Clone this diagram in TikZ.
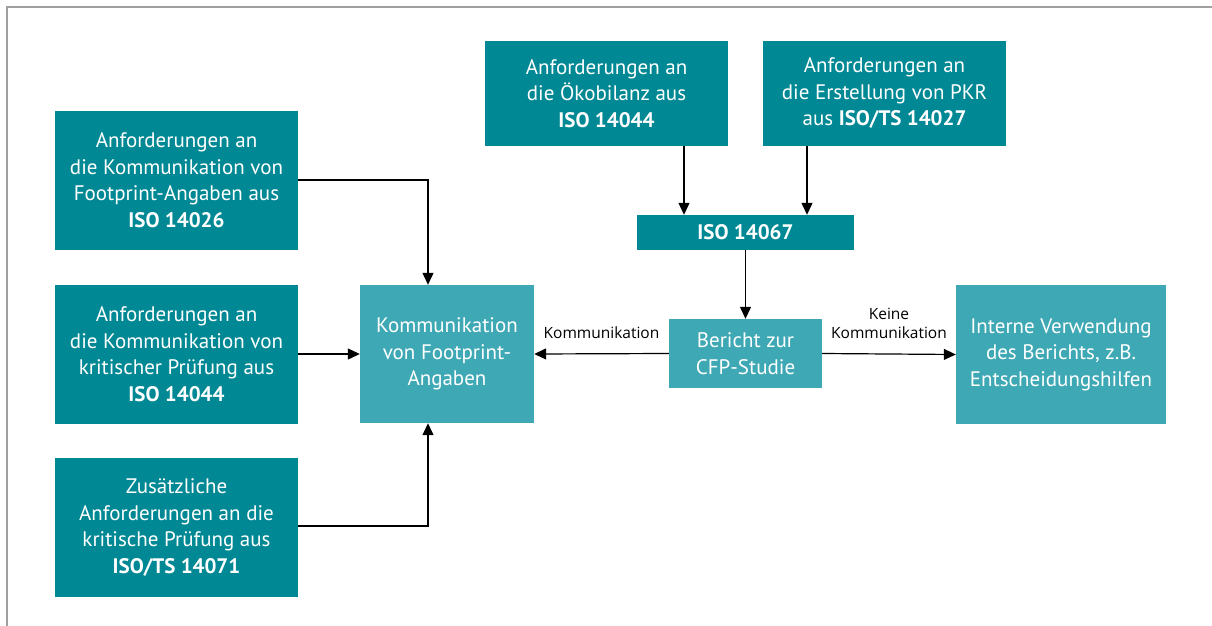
\documentclass[tikz,border=0pt]{standalone}
\usepackage{fontspec}
\setmainfont{PT Sans}
\newfontfamily\lblfont{Open Sans}
\usetikzlibrary{arrows.meta}
\definecolor{darkteal}{HTML}{008894}
\definecolor{lightteal}{HTML}{3EA8B5}
\definecolor{framegray}{HTML}{A0A0A0}
\tikzset{
  dbox/.style={fill=darkteal, text=white, inner sep=0pt, align=center, font=\fontsize{21}{26.5}\selectfont},
  lbox/.style={fill=lightteal, text=white, inner sep=0pt, align=center, font=\fontsize{21}{26.5}\selectfont},
  conn/.style={line width=1.2pt, -{Triangle[length=12pt,width=11pt]}},
  lbl/.style={font=\lblfont\fontsize{15.5}{19}\selectfont, align=center, text=black, inner sep=0pt}
}
\begin{document}
\begin{tikzpicture}[x=1pt,y=-1pt]
\useasboundingbox (0,0) rectangle (1212,626);
\draw[framegray, line width=1.5pt] (7,626) -- (7,7) -- (1212,7);
% left column
\node[dbox, minimum width=243pt, minimum height=139pt] (a) at (176.5,180) {Anforderungen an\\die Kommunikation von\\Footprint-Angaben aus\\\textbf{ISO 14026}};
\node[dbox, minimum width=243pt, minimum height=139pt] (b) at (176.5,354) {Anforderungen an\\die Kommunikation von\\kritischer Prüfung aus\\\textbf{ISO 14044}};
\node[dbox, minimum width=243pt, minimum height=139pt] (c) at (176.5,527.5) {Zusätzliche\\Anforderungen an die\\kritische Prüfung aus\\\textbf{ISO/TS 14071}};
% communication box
\node[lbox, minimum width=174pt, minimum height=138pt] (k) at (447,354) {Kommunikation\\von Footprint-\\Angaben};
% top boxes
\node[dbox, minimum width=243pt, minimum height=105pt] (t1) at (606.5,93.5) {Anforderungen an\\die Ökobilanz aus\\\textbf{ISO 14044}};
\node[dbox, minimum width=243pt, minimum height=105pt] (t2) at (884.5,93.5) {Anforderungen an\\die Erstellung von PKR\\aus \textbf{ISO/TS 14027}};
\node[dbox, minimum width=217pt, minimum height=35pt] (iso) at (745.5,232.5) {\textbf{ISO 14067}};
\node[lbox, minimum width=153pt, minimum height=69pt] (ber) at (745.5,353.5) {Bericht zur\\CFP-Studie};
\node[lbox, minimum width=210pt, minimum height=139pt] (int) at (1061,354.5) {Interne Verwendung\\des Berichts, z.B.\\Entscheidungshilfen};
% connectors
\draw[conn] (a.east) -| (k.north -| 428,0);
\draw[conn] (b.east) -- (k.west);
\draw[conn] (c.east |- 0,526) -| (k.south -| 428,0);
\draw[conn] (t1.south -| 684,0) -- (iso.north -| 684,0);
\draw[conn] (t2.south -| 807,0) -- (iso.north -| 807,0);
\draw[conn] (iso.south) -- (ber.north);
\draw[conn] (ber.west) -- (k.east) node[lbl, pos=0.5, above=15pt] (l1) {Kommunikation};
\draw[conn] (ber.east) -- (int.west) node[lbl, pos=0.5, above=15pt] (l2) {Keine\\Kommunikation};
\end{tikzpicture}
\end{document}
